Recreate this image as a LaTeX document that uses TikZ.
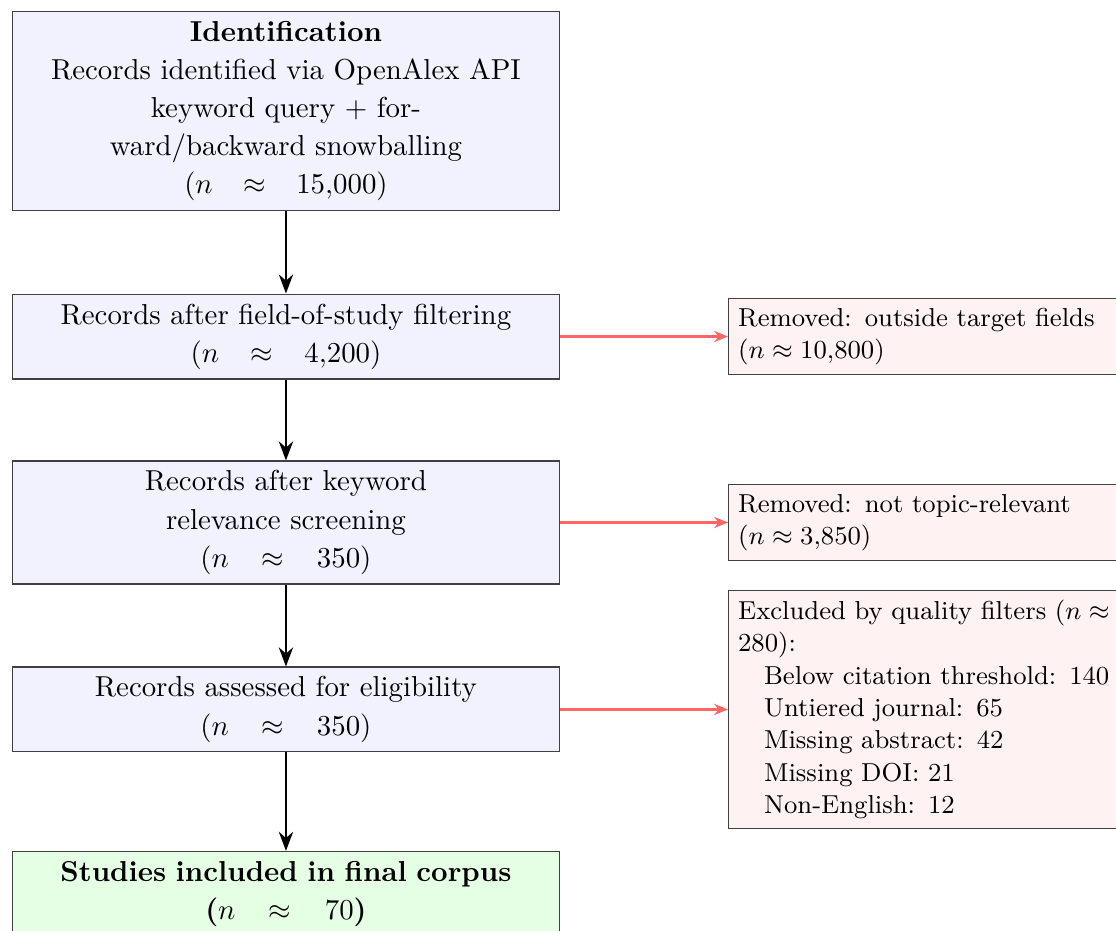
\documentclass[tikz,border=0pt]{standalone}
\usetikzlibrary{arrows.meta}
\linespread{1.1}
\begin{document}
\begin{tikzpicture}[
  inner sep=0.3333em,
  stage/.style={
    draw=black!75,
    fill=blue!5,
    text width=6.43cm,
    align=center
  },
  included/.style={
    stage,
    fill=green!10,
    font=\bfseries
  },
  dropped/.style={
    draw=black!75,
    fill=red!5,
    text width=4.6cm,
    align=left,
    font={\fontsize{9}{11.2}\linespread{1}\selectfont},
    anchor=west
  },
  flow/.style={
    -Stealth,
    thick
  },
  drop/.style={
    -{Stealth[length=4.8pt,width=3.9pt]},
    thick,
    red!60
  }
  ]
  \useasboundingbox (0,0) rectangle (13.597,-11.339);

  \node (ident) [stage] at (3.484,-1.352) {\textbf{Identification}\\Records identified via OpenAlex API\\keyword query + forward/backward snowballing\\($n \approx 15{,}000$)};
  \node (field) [stage] at (3.484,-4.100) {Records after field-of-study filtering\\($n \approx 4{,}200$)};
  \node (keyword) [stage] at (3.484,-6.366) {Records after keyword relevance screening\\($n \approx 350$)};
  \node (eligible) [stage] at (3.484,-8.644) {Records assessed for eligibility\\($n \approx 350$)};
  \node (corpus) [included,anchor=north] at (3.484,-10.367) {Studies included in final corpus\\($n \approx 70$)};

  \node (rm-field) [dropped] at (8.869,-4.100) {Removed: outside target fields\\($n \approx 10{,}800$)};
  \node (rm-topic) [dropped] at (8.869,-6.366) {Removed: not topic-relevant\\($n \approx 3{,}850$)};
  \node (rm-quality) [dropped] at (8.869,-8.644) {Excluded by quality filters ($n \approx$\\280):\\
    \hspace*{1em}Below citation threshold: 140\\
    \hspace*{1em}Untiered journal: 65\\
    \hspace*{1em}Missing abstract: 42\\
    \hspace*{1em}Missing DOI: 21\\
    \hspace*{1em}Non-English: 12};

  \draw [flow] (ident) to (field);
  \draw [flow] (field) to (keyword);
  \draw [flow] (keyword) to (eligible);
  \draw [flow] (eligible) to (corpus);
  \draw [drop] (field) to (rm-field);
  \draw [drop] (keyword) to (rm-topic);
  \draw [drop] (eligible) to (rm-quality);
\end{tikzpicture}
\end{document}
